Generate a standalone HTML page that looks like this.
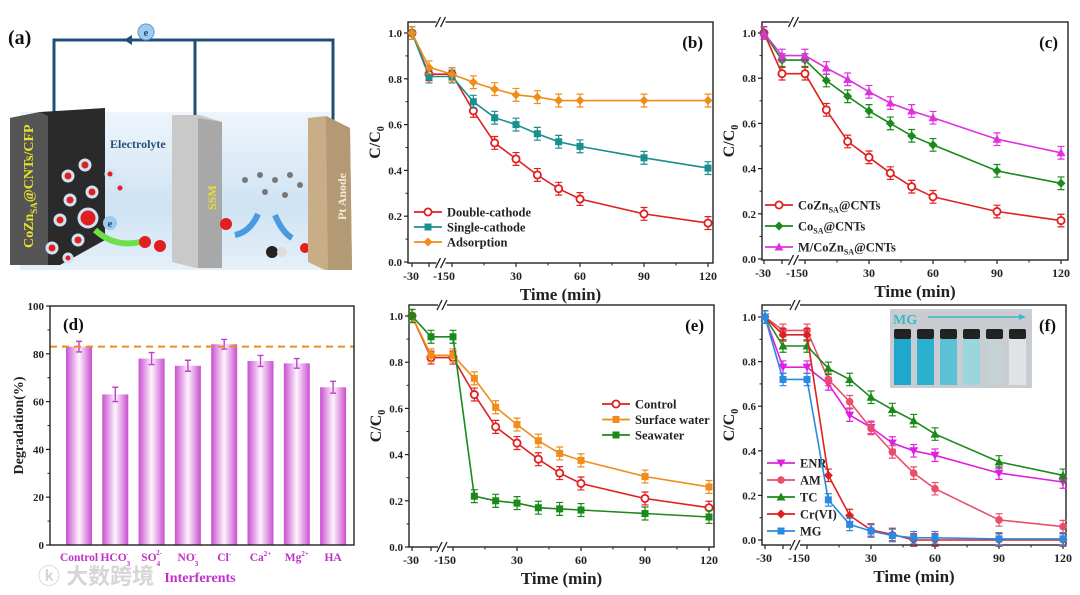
<!DOCTYPE html>
<html><head><meta charset="utf-8">
<style>
html,body{margin:0;padding:0;background:#fff;}
svg{display:block;font-family:"Liberation Serif","Noto Serif CJK SC",serif;font-weight:bold;}
</style></head>
<body>
<svg id="fig" width="1080" height="595" viewBox="0 0 1080 595" xmlns="http://www.w3.org/2000/svg">
<defs>
<linearGradient id="elec" x1="0" y1="0" x2="0" y2="1">
<stop offset="0" stop-color="#eef5fb"/><stop offset="0.6" stop-color="#cfe3f3"/><stop offset="1" stop-color="#e6f0f9"/></linearGradient>
<linearGradient id="barg" x1="0" y1="0" x2="1" y2="0">
<stop offset="0" stop-color="#c94fd0"/><stop offset="0.5" stop-color="#fdf3fd"/><stop offset="1" stop-color="#c94fd0"/></linearGradient>
</defs>

<g>
<text x="8" y="44" font-size="20" fill="#111">(a)</text>
<polygon points="20,112 330,112 345,270 20,270" fill="url(#elec)"/>
<polyline points="54,118 54,40 333,40 333,125" fill="none" stroke="#1f4e79" stroke-width="3"/>
<line x1="195" y1="40" x2="195" y2="122" stroke="#1f4e79" stroke-width="3"/>
<polygon points="132,35 124,40 132,45" fill="#1f4e79"/>
<circle cx="146" cy="32" r="8" fill="#9fcbef" stroke="#5a9ad6"/>
<text x="146" y="36" font-size="11" text-anchor="middle" fill="#1f4e79">e</text>
<polygon points="10,118 40,112 105,108 105,240 60,265 10,265" fill="#2a2a2a"/>
<polygon points="10,118 40,112 48,116 48,265 10,265" fill="#555"/>
<text transform="translate(33,248) rotate(-90)" font-size="14" fill="#e8e22a">CoZn<tspan font-size="9" dy="4">SA</tspan><tspan dy="-4">@CNTs/CFP</tspan></text>
<g fill="#e02020" stroke="#cfe3f3" stroke-width="3">
<circle cx="68" cy="176" r="5"/><circle cx="85" cy="165" r="5"/><circle cx="70" cy="200" r="5"/><circle cx="92" cy="192" r="5"/><circle cx="60" cy="220" r="5"/><circle cx="88" cy="218" r="9"/><circle cx="78" cy="240" r="5"/><circle cx="52" cy="248" r="5"/><circle cx="110" cy="174" r="4"/><circle cx="120" cy="188" r="4"/><circle cx="68" cy="258" r="4"/></g>
<text x="110" y="148" font-size="12" fill="#2a4d7a">Electrolyte</text>
<circle cx="110" cy="223" r="7" fill="#9fcbef"/><text x="110" y="227" font-size="11" text-anchor="middle" fill="#1f4e79">e</text>
<circle cx="192" cy="233" r="7" fill="#9fcbef"/><text x="192" y="237" font-size="11" text-anchor="middle" fill="#1f4e79">e</text>
<path d="M95,230 Q115,248 140,242" fill="none" stroke="#6ee04a" stroke-width="6"/>
<path d="M178,252 Q200,256 215,238" fill="none" stroke="#6ee04a" stroke-width="6"/>
<circle cx="145" cy="242" r="6" fill="#e02020"/><circle cx="160" cy="246" r="6" fill="#e02020"/>
<polygon points="172,115 200,115 222,122 222,268 196,268 172,262" fill="#c9c9c9"/>
<polygon points="198,118 222,122 222,268 198,268" fill="#a8a8a8"/>
<text transform="translate(216,210) rotate(-90)" font-size="12" fill="#e8e22a">SSM</text>
<circle cx="226" cy="224" r="6" fill="#e02020"/>
<path d="M235,235 Q250,232 258,214" fill="none" stroke="#4a9ae0" stroke-width="6"/>
<path d="M275,215 Q282,232 292,238" fill="none" stroke="#4a9ae0" stroke-width="6"/>
<g fill="#777"><circle cx="245" cy="180" r="3"/><circle cx="260" cy="175" r="3"/><circle cx="275" cy="180" r="3"/><circle cx="290" cy="175" r="3"/><circle cx="300" cy="185" r="3"/><circle cx="265" cy="192" r="3"/><circle cx="285" cy="195" r="3"/></g>
<circle cx="272" cy="252" r="6" fill="#222"/><circle cx="282" cy="252" r="5" fill="#ddd"/><circle cx="305" cy="248" r="5" fill="#e02020"/>
<polygon points="308,118 326,116 350,128 352,270 325,270 308,262" fill="#c8ad86"/>
<polygon points="326,116 350,128 352,270 328,270" fill="#b39a74"/>
<text transform="translate(346,220) rotate(-90)" font-size="12" fill="#f4ead8">Pt Anode</text>
</g>

<g id="charts"></g>
<text x="38" y="584" font-size="22" fill="#d6d6d6" font-family="Liberation Sans, Noto Sans CJK SC, sans-serif">ⓚ 大数跨境</text>
</svg>
<script>
const times = [-30,-15,0,10,20,30,40,50,60,90,120];
const bDouble = [1,0.82,0.82,0.66,0.52,0.45,0.38,0.32,0.275,0.21,0.17];
const bSingle = [1,0.81,0.81,0.70,0.63,0.60,0.56,0.525,0.505,0.455,0.41];
const bAdsorb = [1,0.85,0.82,0.785,0.755,0.73,0.72,0.705,0.705,0.705,0.705];
const cCoZn = [1,0.82,0.82,0.66,0.52,0.45,0.38,0.32,0.275,0.21,0.17];
const cCo = [1,0.88,0.88,0.79,0.72,0.655,0.60,0.545,0.505,0.39,0.335];
const cM = [1,0.90,0.90,0.845,0.795,0.74,0.69,0.655,0.625,0.53,0.47];
const eControl = [1,0.82,0.82,0.66,0.52,0.45,0.38,0.32,0.275,0.21,0.17];
const eSurface = [1,0.83,0.83,0.73,0.605,0.53,0.46,0.405,0.375,0.305,0.26];
const eSea = [1,0.91,0.91,0.22,0.20,0.19,0.17,0.165,0.16,0.145,0.13];
const fENR = [1,0.775,0.775,0.70,0.56,0.505,0.435,0.40,0.38,0.30,0.26];
const fAM = [1,0.94,0.94,0.72,0.62,0.50,0.395,0.30,0.23,0.09,0.06];
const fTC = [1,0.87,0.87,0.77,0.72,0.64,0.585,0.535,0.475,0.35,0.29];
const fCr = [1,0.92,0.92,0.29,0.11,0.045,0.025,0,0,0,0];
const fMG = [1,0.72,0.72,0.18,0.07,0.04,0.02,0.01,0.01,0.005,0.005];
const yTicks = [0,0.2,0.4,0.6,0.8,1.0];
const xTickVals = [-30,-15,0,30,60,90,120];
const xTickLabels = ["-30","-15","0","30","60","90","120"];
const dCats = ["Control","HCO3","SO4","NO3","Cl","Ca","Mg","HA"];
const dVals = [83,63,78,75,84,77,76,66];
const dErr = [2.2,3,2.5,2.3,2,2.3,2,2.5];
const dTicks = [0,20,40,60,80,100];
const dRef = 83;

const NS="http://www.w3.org/2000/svg";
const root=document.getElementById('charts');
function el(tag,attrs,parent){const e=document.createElementNS(NS,tag);for(const k in attrs)e.setAttribute(k,attrs[k]);(parent||root).appendChild(e);return e;}

function marker(g,type,x,y,c){
  let m;
  if(type==='circ') m=el('circle',{cx:x,cy:y,r:3.6,fill:'#fff',stroke:c,'stroke-width':1.8},g);
  else if(type==='dot') m=el('circle',{cx:x,cy:y,r:3.8,fill:c},g);
  else if(type==='sq') m=el('rect',{x:x-3.5,y:y-3.5,width:7,height:7,fill:c},g);
  else if(type==='dia') m=el('polygon',{points:`${x},${y-4.5} ${x+4.5},${y} ${x},${y+4.5} ${x-4.5},${y}`,fill:c},g);
  else if(type==='tri') m=el('polygon',{points:`${x},${y-4.5} ${x+4.5},${y+3.5} ${x-4.5},${y+3.5}`,fill:c},g);
  else if(type==='dtri') m=el('polygon',{points:`${x},${y+4.5} ${x+4.5},${y-3.5} ${x-4.5},${y-3.5}`,fill:c},g);
  
  
}

function lineChart(p){
  const g=el('g',{});
  
  
  const X=t=> t<=-15 ? p.xa+(t+30)/15*(p.xb-p.xa) : p.x0+t*(p.x30-p.x0)/30;
  const Y=v=> p.y0+(p.y1-p.y0)*v;
  const fr=el('rect',{x:p.L,y:p.T,width:p.R-p.L,height:p.B-p.T,fill:'none',stroke:'#222','stroke-width':1.4},g);
  
  
  const bx=(p.xb+p.x0)/2+1;
  [p.T,p.B].forEach(yy=>{
    el('rect',{x:bx-5,y:yy-2,width:9,height:4,fill:'#fff'},g);
    el('line',{x1:bx-6,y1:yy+5,x2:bx-1,y2:yy-5,stroke:'#222','stroke-width':1.3},g);
    el('line',{x1:bx-1,y1:yy+5,x2:bx+4,y2:yy-5,stroke:'#222','stroke-width':1.3},g);
  });
  yTicks.forEach(v=>{
    el('line',{x1:p.L-4,y1:Y(v),x2:p.L,y2:Y(v),stroke:'#222','stroke-width':1.2},g);
    const t=el('text',{x:p.L-6,y:Y(v)+4,'font-size':11,'text-anchor':'end',fill:'#222'},g);
    t.textContent=v.toFixed(1);
    
    
  });
  for(let v=0.1;v<1;v+=0.2) el('line',{x1:p.L-2.5,y1:Y(v),x2:p.L,y2:Y(v),stroke:'#222','stroke-width':1},g);
  xTickVals.forEach((v,i)=>{
    el('line',{x1:X(v),y1:p.B,x2:X(v),y2:p.B+4,stroke:'#222','stroke-width':1.2},g);
    let x=X(v), anchor='middle';
    if(v===-15){x=p.x0-3;anchor='end';}
    if(v===0){x=p.x0-3;anchor='start';}
    if(v===-30){x=X(v)-1;}
    const t=el('text',{x:x,y:p.B+17,'font-size':12,'text-anchor':anchor,fill:'#222'},g);
    t.textContent=xTickLabels[i];
    
    
  });
  for(let v=15;v<120;v+=30) el('line',{x1:X(v),y1:p.B,x2:X(v),y2:p.B+2.5,stroke:'#222','stroke-width':1},g);
  const yt=el('text',{transform:`translate(${p.L-28},${(p.T+p.B)/2}) rotate(-90)`,'font-size':16,'text-anchor':'middle',fill:'#222'},g);
  yt.innerHTML='C/C<tspan font-size="10" dy="4">0</tspan>';
  
  
  const xt=el('text',{x:(p.L+p.R)/2,y:p.B+37,'font-size':17,'text-anchor':'middle',fill:'#222'},g);
  xt.textContent='Time (min)';
  
  
  const pl=el('text',{x:p.R-10,y:p.T+26,'font-size':17,'text-anchor':'end',fill:'#111'},g);
  pl.textContent=p.label;
  
  
  p.series.forEach((s,si)=>{
    const sg=el('g',{},g);
    
    
    const pts=times.map((t,i)=>X(t).toFixed(1)+','+Y(s.data[i]).toFixed(1));
    el('polyline',{points:pts.join(' '),fill:'none',stroke:s.c,'stroke-width':1.6},sg);
    times.forEach((t,i)=>{
      const x=X(t),y=Y(s.data[i]),e=0.028*(p.y0-p.y1);
      el('path',{d:`M${x},${y-e}V${y+e}M${x-3.5},${y-e}H${x+3.5}M${x-3.5},${y+e}H${x+3.5}`,stroke:s.c,'stroke-width':1.2,fill:'none'},sg);
      marker(sg,s.m,x,y,s.c);
    });
    const ly=p.legY+si*p.legDy;
    const lg=el('g',{},g);
    
    
    el('line',{x1:p.legX,y1:ly,x2:p.legX+28,y2:ly,stroke:s.c,'stroke-width':1.8},lg);
    marker(lg,s.m,p.legX+14,ly,s.c);
    const lt=el('text',{x:p.legX+33,y:ly+4.5,'font-size':12.5,fill:'#222'},lg);
    lt.innerHTML=s.label;
  });
  return g;
}

lineChart({name:'panel-b-chart',label:'(b)',L:408,R:713,T:22,B:263,y1:33,y0:262,xa:412,xb:429,x0:452,x30:516,legX:414,legY:212,legDy:15,
 series:[{key:'double-cathode',data:bDouble,c:'#e02020',m:'circ',label:'Double-cathode'},
         {key:'single-cathode',data:bSingle,c:'#17908f',m:'sq',label:'Single-cathode'},
         {key:'adsorption',data:bAdsorb,c:'#f08c1a',m:'dia',label:'Adsorption'}]});
lineChart({name:'panel-c-chart',label:'(c)',L:762,R:1068,T:22,B:260,y1:33,y0:259,xa:764,xb:782,x0:805,x30:869,legX:765,legY:205,legDy:21,
 series:[{key:'cozn-sa-cnts',data:cCoZn,c:'#e02020',m:'circ',label:'CoZn<tspan font-size="8" dy="3">SA</tspan><tspan dy="-3">@CNTs</tspan>'},
         {key:'co-sa-cnts',data:cCo,c:'#1a8a1a',m:'dia',label:'Co<tspan font-size="8" dy="3">SA</tspan><tspan dy="-3">@CNTs</tspan>'},
         {key:'m-cozn-sa-cnts',data:cM,c:'#e030e0',m:'tri',label:'M/CoZn<tspan font-size="8" dy="3">SA</tspan><tspan dy="-3">@CNTs</tspan>'}]});
lineChart({name:'panel-e-chart',label:'(e)',L:409,R:714,T:305,B:547,y1:316,y0:547,xa:412,xb:431,x0:453,x30:517,legX:602,legY:404,legDy:15.5,
 series:[{key:'control',data:eControl,c:'#e02020',m:'circ',label:'Control'},
         {key:'surface-water',data:eSurface,c:'#f08c1a',m:'sq',label:'Surface water'},
         {key:'seawater',data:eSea,c:'#1a8a1a',m:'sq',label:'Seawater'}]});
lineChart({name:'panel-f-chart',label:'(f)',L:762,R:1066,T:305,B:545,y1:317,y0:540,xa:765,xb:783,x0:807,x30:871,legX:767,legY:463,legDy:17,
 series:[{key:'enr',data:fENR,c:'#e020e0',m:'dtri',label:'ENR'},
         {key:'am',data:fAM,c:'#e8506a',m:'dot',label:'AM'},
         {key:'tc',data:fTC,c:'#1a8a1a',m:'tri',label:'TC'},
         {key:'cr-vi',data:fCr,c:'#e02020',m:'dia',label:'Cr(VI)'},
         {key:'mg',data:fMG,c:'#2a8ae0',m:'sq',label:'MG'}]});

(function(){
  const g=el('g',{});
  
  
  el('rect',{x:890,y:309,width:142,height:79,fill:'#c9ccd0'},g);
  const cols=['#1fa8cc','#2bb0d0','#5cc0d6','#9ad6dc','#c6d1d4','#dfe3e4'];
  cols.forEach((c,i)=>{
    const x=894+i*23;
    el('rect',{x:x,y:329,width:17,height:10,rx:2,fill:'#222'},g);
    el('rect',{x:x,y:339,width:17,height:46,fill:c},g);
  });
  const t=el('text',{x:893,y:324,'font-size':14,fill:'#3ab8c8'},g);
  t.textContent='MG';
  el('line',{x1:928,y1:317,x2:1022,y2:317,stroke:'#3ab8c8','stroke-width':1.5},g);
  el('polygon',{points:'1026,317 1019,314 1019,320',fill:'#3ab8c8'},g);
})();

(function(){
  const L=50,R=354,T=306,B=545;
  const Y=v=>B-(B-T)*v/100;
  const X=i=>79+i*36.3;
  const g=el('g',{});
  
  
  dVals.forEach((v,i)=>{
    const b=el('rect',{x:X(i)-13,y:Y(v),width:26,height:B-Y(v),fill:'url(#barg)'},g);
    
    
    const e=dErr[i];
    el('path',{d:`M${X(i)},${Y(v+e)}V${Y(v-e)}M${X(i)-3},${Y(v+e)}H${X(i)+3}M${X(i)-3},${Y(v-e)}H${X(i)+3}`,stroke:'#c040c8','stroke-width':1.4,fill:'none'},g);
  });
  const rl=el('line',{x1:L,y1:Y(dRef),x2:R,y2:Y(dRef),stroke:'#f08c1a','stroke-width':2,'stroke-dasharray':'7,5'},g);
  
  
  el('rect',{x:L,y:T,width:R-L,height:B-T,fill:'none',stroke:'#222','stroke-width':1.4},g);
  dTicks.forEach(v=>{
    el('line',{x1:L-4,y1:Y(v),x2:L,y2:Y(v),stroke:'#222','stroke-width':1.2},g);
    const t=el('text',{x:L-6,y:Y(v)+4,'font-size':11,'text-anchor':'end',fill:'#222'},g);
    t.textContent=v;
    
    
  });
  for(let v=10;v<100;v+=20) el('line',{x1:L-2.5,y1:Y(v),x2:L,y2:Y(v),stroke:'#222','stroke-width':1},g);
  const labs=['Control','HCO<tspan font-size="7" dy="5">3</tspan><tspan font-size="7" dx="-4" dy="-10">-</tspan>',
    'SO<tspan font-size="7" dy="5">4</tspan><tspan font-size="7" dx="-4" dy="-11">2-</tspan>',
    'NO<tspan font-size="7" dy="5">3</tspan><tspan font-size="7" dx="-4" dy="-10">-</tspan>',
    'Cl<tspan font-size="7" dy="-5">-</tspan>','Ca<tspan font-size="7" dy="-5">2+</tspan>','Mg<tspan font-size="7" dy="-5">2+</tspan>','HA'];
  labs.forEach((s,i)=>{
    const t=el('text',{x:X(i),y:561,'font-size':11.5,'text-anchor':'middle',fill:'#c030c8'},g);
    t.innerHTML=s;
    
    
  });
  const xt=el('text',{x:200,y:582,'font-size':14,'text-anchor':'middle',fill:'#c030c8'},g);
  xt.textContent='Interferents';
  
  
  const yt=el('text',{transform:`translate(23,${(T+B)/2}) rotate(-90)`,'font-size':14,'text-anchor':'middle',fill:'#222'},g);
  yt.textContent='Degradation(%)';
  
  
  const pl=el('text',{x:63,y:330,'font-size':17,fill:'#111'},g);
  pl.textContent='(d)';
  
  
})();
</script>
</body></html>
